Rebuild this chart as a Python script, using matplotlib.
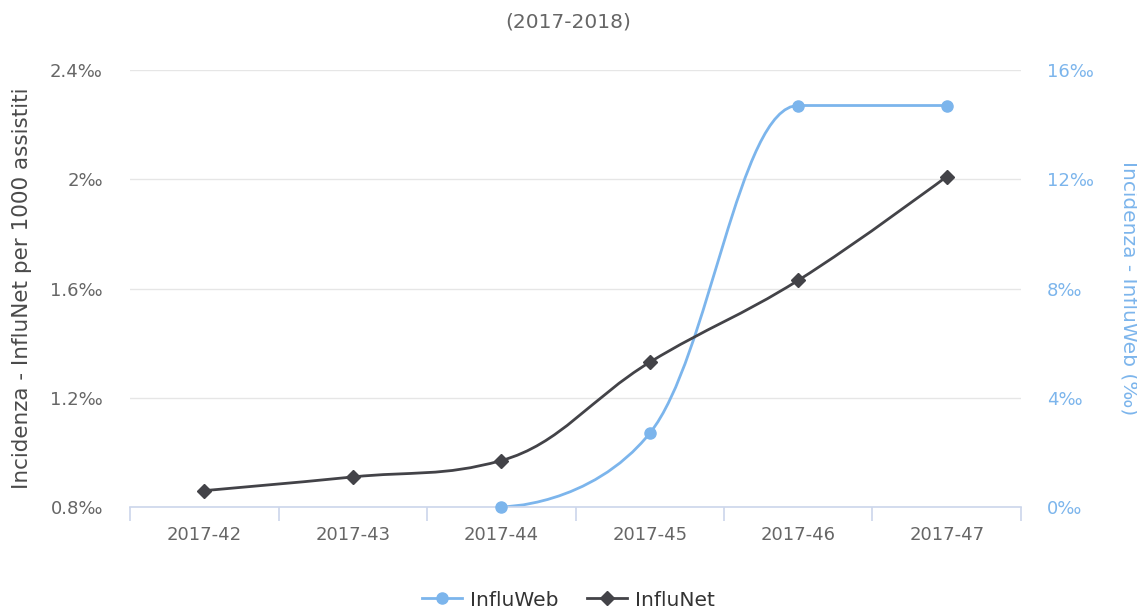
import numpy as np
import matplotlib
matplotlib.use("Agg")
import matplotlib.pyplot as plt
from matplotlib.path import Path
from matplotlib.patches import PathPatch
from matplotlib.lines import Line2D

# ---- data ----
categories = ["2017-42", "2017-43", "2017-44", "2017-45", "2017-46", "2017-47"]
influnet = [0.86, 0.91, 0.97, 1.33, 1.63, 2.01]          # left axis (‰)
influweb = [np.nan, np.nan, 0.0, 2.7, 14.7, 14.7]         # right axis (‰)
left_ticks = [0.8, 1.2, 1.6, 2.0, 2.4]
left_labels = ["0.8‰", "1.2‰", "1.6‰", "2‰", "2.4‰"]
right_ticks = [0, 4, 8, 12, 16]
right_labels = ["0‰", "4‰", "8‰", "12‰", "16‰"]
title = "(2017-2018)"
left_title = "Incidenza - InfluNet per 1000 assistiti"
right_title = "Incidenza - InfluWeb (‰)"

BLUE = "#7cb5ec"
DARK = "#434348"
GRID = "#e6e6e6"
AXIS = "#ccd6eb"
TXT = "#666666"

plt.rcParams["font.family"] = ["DejaVu Sans"]


def spline_path(xs, ys, smoothing=1.5):
    """Highcharts-style spline through the given points (bezier segments)."""
    pts = [(x, y) for x, y in zip(xs, ys) if not np.isnan(y)]
    n = len(pts)
    rc = [None] * n
    lc = [None] * n
    for i in range(n):
        px, py = pts[i]
        if 0 < i < n - 1:
            lx, ly = pts[i - 1]
            nx, ny = pts[i + 1]
            d = smoothing + 1
            lcx = (smoothing * px + lx) / d
            lcy = (smoothing * py + ly) / d
            rcx = (smoothing * px + nx) / d
            rcy = (smoothing * py + ny) / d
            corr = 0.0
            if rcx != lcx:
                corr = ((rcy - lcy) * (rcx - px)) / (rcx - lcx) + py - rcy
            lcy += corr
            rcy += corr
            if lcy > ly and lcy > py:
                lcy = max(ly, py); rcy = 2 * py - lcy
            elif lcy < ly and lcy < py:
                lcy = min(ly, py); rcy = 2 * py - lcy
            if rcy > ny and rcy > py:
                rcy = max(ny, py); lcy = 2 * py - rcy
            elif rcy < ny and rcy < py:
                rcy = min(ny, py); lcy = 2 * py - rcy
            lc[i] = (lcx, lcy)
            rc[i] = (rcx, rcy)
    verts = [pts[0]]
    codes = [Path.MOVETO]
    for i in range(1, n):
        c1 = rc[i - 1] if rc[i - 1] is not None else pts[i - 1]
        c2 = lc[i] if lc[i] is not None else pts[i]
        verts += [c1, c2, pts[i]]
        codes += [Path.CURVE4] * 3
    return Path(verts, codes)


fig = plt.figure(figsize=(11.37, 6.12), dpi=100)
ax2 = fig.add_axes([130 / 1137, 1 - 507 / 612, (1021 - 130) / 1137, (507 - 70) / 612])
ax = ax2.twinx()

x = np.arange(len(categories))

# ---- ax2: grid, x axis and InfluWeb (right scale) ----
ax2.set_xlim(-0.5, len(categories) - 0.5)
ax2.set_ylim(0, 16)
ax2.set_yticks(right_ticks)
ax2.set_yticklabels(right_labels)
ax2.yaxis.tick_right()
ax2.yaxis.set_label_position("right")
ax2.grid(axis="y", color=GRID, linewidth=1.0)
ax2.set_axisbelow(True)
ax2.add_patch(PathPatch(spline_path(x, influweb), fill=False, edgecolor=BLUE,
                        linewidth=2.0, capstyle="round", joinstyle="round", zorder=2))
ax2.plot(x, influweb, linestyle="none", marker="o", markersize=8,
         color=BLUE, zorder=3, clip_on=False)

# ---- ax: InfluNet (left scale) ----
ax.set_ylim(0.8, 2.4)
ax.set_yticks(left_ticks)
ax.set_yticklabels(left_labels)
ax.yaxis.tick_left()
ax.yaxis.set_label_position("left")
ax.add_patch(PathPatch(spline_path(x, influnet), fill=False, edgecolor=DARK,
                       linewidth=2.0, capstyle="round", joinstyle="round", zorder=2))
ax.plot(x, influnet, linestyle="none", marker="D", markersize=7,
        color=DARK, zorder=3, clip_on=False)

# x ticks: boundaries with tick marks, labels at centers
ax2.set_xticks(np.arange(-0.5, len(categories)))
ax2.set_xticklabels([])
ax2.set_xticks(x, minor=True)
ax2.set_xticklabels(categories, minor=True)
ax2.tick_params(axis="x", which="major", length=10, color=AXIS, width=1.2)
ax2.tick_params(axis="x", which="minor", length=0, pad=14, labelsize=13, labelcolor=TXT)
ax.tick_params(axis="x", which="both", bottom=False, top=False,
               labelbottom=False, labeltop=False)

ax2.tick_params(axis="y", length=0, pad=18.5, labelsize=13, labelcolor=BLUE)
ax.tick_params(axis="y", length=0, pad=19.5, labelsize=13, labelcolor=TXT)

for a in (ax, ax2):
    for s in ("top", "left", "right"):
        a.spines[s].set_visible(False)
    a.spines["bottom"].set_color(AXIS)
    a.spines["bottom"].set_linewidth(1.2)
ax.spines["bottom"].set_visible(False)

ax.set_ylabel(left_title, fontsize=15.5, color="#4a4a4a", labelpad=13)
ax2.set_ylabel(right_title, fontsize=14.5, color=BLUE, rotation=270, labelpad=32)

fig.text(0.5, 1 - 22 / 612, title, ha="center", va="center", fontsize=14.5, color=TXT)

handles = [
    Line2D([], [], color=BLUE, linewidth=2, marker="o", markersize=8),
    Line2D([], [], color=DARK, linewidth=2, marker="D", markersize=7),
]
fig.legend(handles, ["InfluWeb", "InfluNet"], loc="center", bbox_to_anchor=(0.5, 1 - 600 / 612),
           ncol=2, frameon=False, fontsize=14.5, labelcolor="#333333",
           handlelength=2.0, handletextpad=0.4, columnspacing=1.4)

fig.savefig("out.png", dpi=100)
